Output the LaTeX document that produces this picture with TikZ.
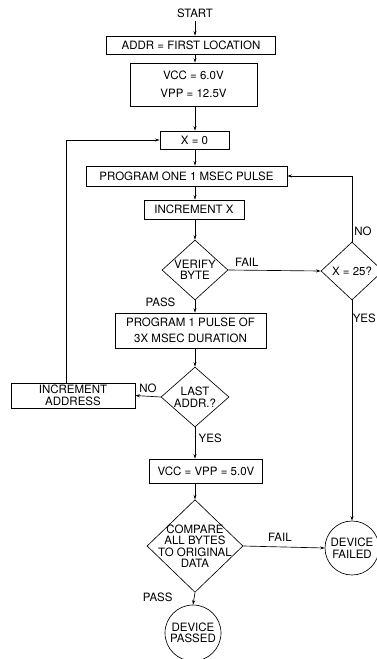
\documentclass[tikz,border=0pt]{standalone}
\usepackage{fontspec}
\setmainfont{TeX Gyre Heros}
\usetikzlibrary{shapes.geometric,arrows.meta}
\begin{document}
\begin{tikzpicture}[x=1pt,y=-1pt,
		font=\fontsize{11.5}{11.5}\selectfont,
		>={Stealth[length=4.5pt,width=3pt]},
		every path/.style={line width=0.65pt},
		stepbox/.style={draw,rectangle,inner sep=1pt,align=center},
		decision/.style={draw,diamond,inner sep=-6pt,align=center},
		endpoint/.style={draw,circle,inner sep=0pt,align=center}]
		\useasboundingbox (0,0) rectangle (376,659);
		% main column
		\node (start) at (195,13) {START};
		\node[stepbox,minimum width=169,minimum height=18] (addr) at (191,45) {ADDR = FIRST LOCATION};
		\node[stepbox,minimum width=127,minimum height=43] (vcc) at (193.5,84.5) {VCC = 6.0V\\[6pt]VPP = 12.5V};
		\node[stepbox,minimum width=69,minimum height=18] (xzero) at (194.5,140) {X = 0};
		\node[stepbox,minimum width=201,minimum height=20] (prog) at (186.5,176) {PROGRAM ONE 1 MSEC PULSE};
		\node[stepbox,minimum width=100,minimum height=19] (incx) at (194,209.5) {INCREMENT X};
		\node[decision,minimum width=66,minimum height=60] (verify) at (195,270) {VERIFY\\BYTE};
		\node[stepbox,minimum width=151,minimum height=35] (pulse) at (190.5,330.5) {PROGRAM 1 PULSE OF\\[4pt]3X MSEC DURATION};
		\node[decision,minimum width=68,minimum height=60] (last) at (195,397) {LAST\\ADDR.?};
		\node[stepbox,minimum width=124,minimum height=25] (incaddr) at (73,395.5) {INCREMENT\\ADDRESS};
		\node[stepbox,minimum width=113,minimum height=24] (vccfive) at (206,471) {VCC = VPP = 5.0V};
		\node[decision,minimum width=96,minimum height=88] (compare) at (195,546) {COMPARE\\ALL BYTES\\TO ORIGINAL\\DATA};
		\node[endpoint,minimum size=56] (passed) at (193,633) {DEVICE\\PASSED};
		% right column
		\node[decision,minimum width=62,minimum height=58] (count) at (352,271) {X = 25?};
		\node[endpoint,minimum size=54] (failed) at (352,548) {DEVICE\\FAILED};

		\draw[->] (start) -- (addr.north -| start);
		\draw[->] (addr.south -| start) -- (vcc.north -| start);
		\draw[->] (vcc.south -| start) -- (xzero.north -| start);
		\draw[->] (xzero.south -| start) -- (prog.north -| start);
		\draw[->] (prog.south -| start) -- (incx.north -| start);
		\draw[->] (incx.south -| start) -- (verify.north);
		\draw[->] (verify.east) -- node[above,pos=0.2]{FAIL} (count.west);
		\draw[->] (count.north) |- node[pos=0.08,right,inner sep=2pt]{NO} (prog.east);
		\draw[->] (verify.south) -- node[left,pos=0.15,xshift=-16pt]{PASS} (pulse.north -| verify);
		\draw[->] (pulse.south -| last) -- (last.north);
		\draw[->] (last.west) -- node[above]{NO} (incaddr.east);
		\draw[->] ([xshift=-7pt]incaddr.north) |- (xzero.west);
		\draw[->] (last.south) -- node[right,pos=0.35]{YES} (vccfive.north -| last);
		\draw[->] (count.south) -- node[right,pos=0.08,inner sep=0.5pt]{YES} (failed.north);
		\draw[->] (vccfive.south -| compare) -- (compare.north);
		\draw[->] (compare.east) -- node[above,pos=0.45,yshift=2pt]{FAIL} (failed.west);
		\draw[->] (compare.south) -- node[left,pos=0.4,xshift=-18pt]{PASS} (passed.north);
\end{tikzpicture}
\end{document}
